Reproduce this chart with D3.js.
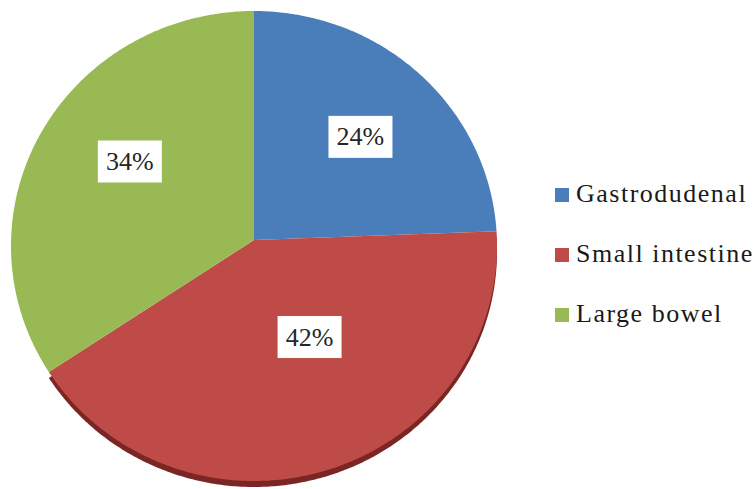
<!DOCTYPE html>
<html><head><meta charset="utf-8">
<script src="https://cdn.jsdelivr.net/npm/d3@7"></script>
</head><body style="margin:0">
<svg id="chart" width="755" height="489" font-family="Liberation Serif, Tinos, FreeSerif, serif"></svg>
<script>
// ---- data ----
const categories = ["Gastrodudenal", "Small intestine", "Large bowel"];
const values = [24, 42, 34];
const labels = ["24%", "42%", "34%"];
const colors = ["#4a7ebb", "#be4b48", "#98b954"];
const sideColors = [null, "#7a2624", null];

// ---- layout ----
const cx = 254, cy = 246, rx = 243, ry = 235;   // top ellipse
const vx = 254, vy = 240;                         // apex of the slices (perspective)
const depth = 6;
// label placement: fraction of radius and angular shift (degrees) per slice
const labelRadius = [0.64, 0.448, 0.626];
const labelShift = [0, -12.7, 6.5];

const svg = d3.select("#chart");
const pie = d3.pie().sort(null).value(d => d).startAngle(0).endAngle(2 * Math.PI);
const arcs = pie(values);

function ept(a, dy = 0) { return [cx + rx * Math.sin(a), cy - ry * Math.cos(a) + dy]; }
function slicePath(d, dy = 0) {
  const p = d3.path();
  p.moveTo(vx, vy + dy);
  const n = Math.max(8, Math.ceil((d.endAngle - d.startAngle) / 0.01));
  for (let i = 0; i <= n; i++) {
    const a = d.startAngle + (d.endAngle - d.startAngle) * i / n;
    const [x, y] = ept(a, dy);
    p.lineTo(x, y);
  }
  p.closePath();
  return p.toString();
}

svg.append("g").selectAll("path").data(arcs.filter((d, i) => sideColors[i])).join("path")
  .attr("d", d => slicePath(d, depth))
  .attr("fill", d => sideColors[d.index]);

svg.append("g").selectAll("path").data(arcs).join("path")
  .attr("d", d => slicePath(d))
  .attr("fill", (d, i) => colors[i]);

arcs.forEach((d, i) => {
  const mid = (d.startAngle + d.endAngle) / 2 + labelShift[i] * Math.PI / 180;
  const x = cx + labelRadius[i] * rx * Math.sin(mid);
  const y = cy - labelRadius[i] * ry * Math.cos(mid);
  svg.append("rect").attr("x", x - 32).attr("y", y - 20.5).attr("width", 64).attr("height", 42).attr("fill", "#fff");
  svg.append("text").attr("x", x).attr("y", y + 9).attr("text-anchor", "middle")
    .attr("font-family", "Liberation Serif, Tinos, FreeSerif, serif").attr("font-size", 26).attr("fill", "#262626")
    .text(labels[i]);
});

categories.forEach((c, i) => {
  const y = 195 + i * 60;
  svg.append("rect").attr("x", 555).attr("y", y - 7).attr("width", 14).attr("height", 14).attr("fill", colors[i]);
  svg.append("text").attr("x", 576).attr("y", y + 7)
    .attr("font-family", "Liberation Serif, Tinos, FreeSerif, serif").attr("font-size", 26).attr("letter-spacing", 1.5)
    .attr("fill", "#1a1a1a").text(c);
});
</script>
</body></html>
